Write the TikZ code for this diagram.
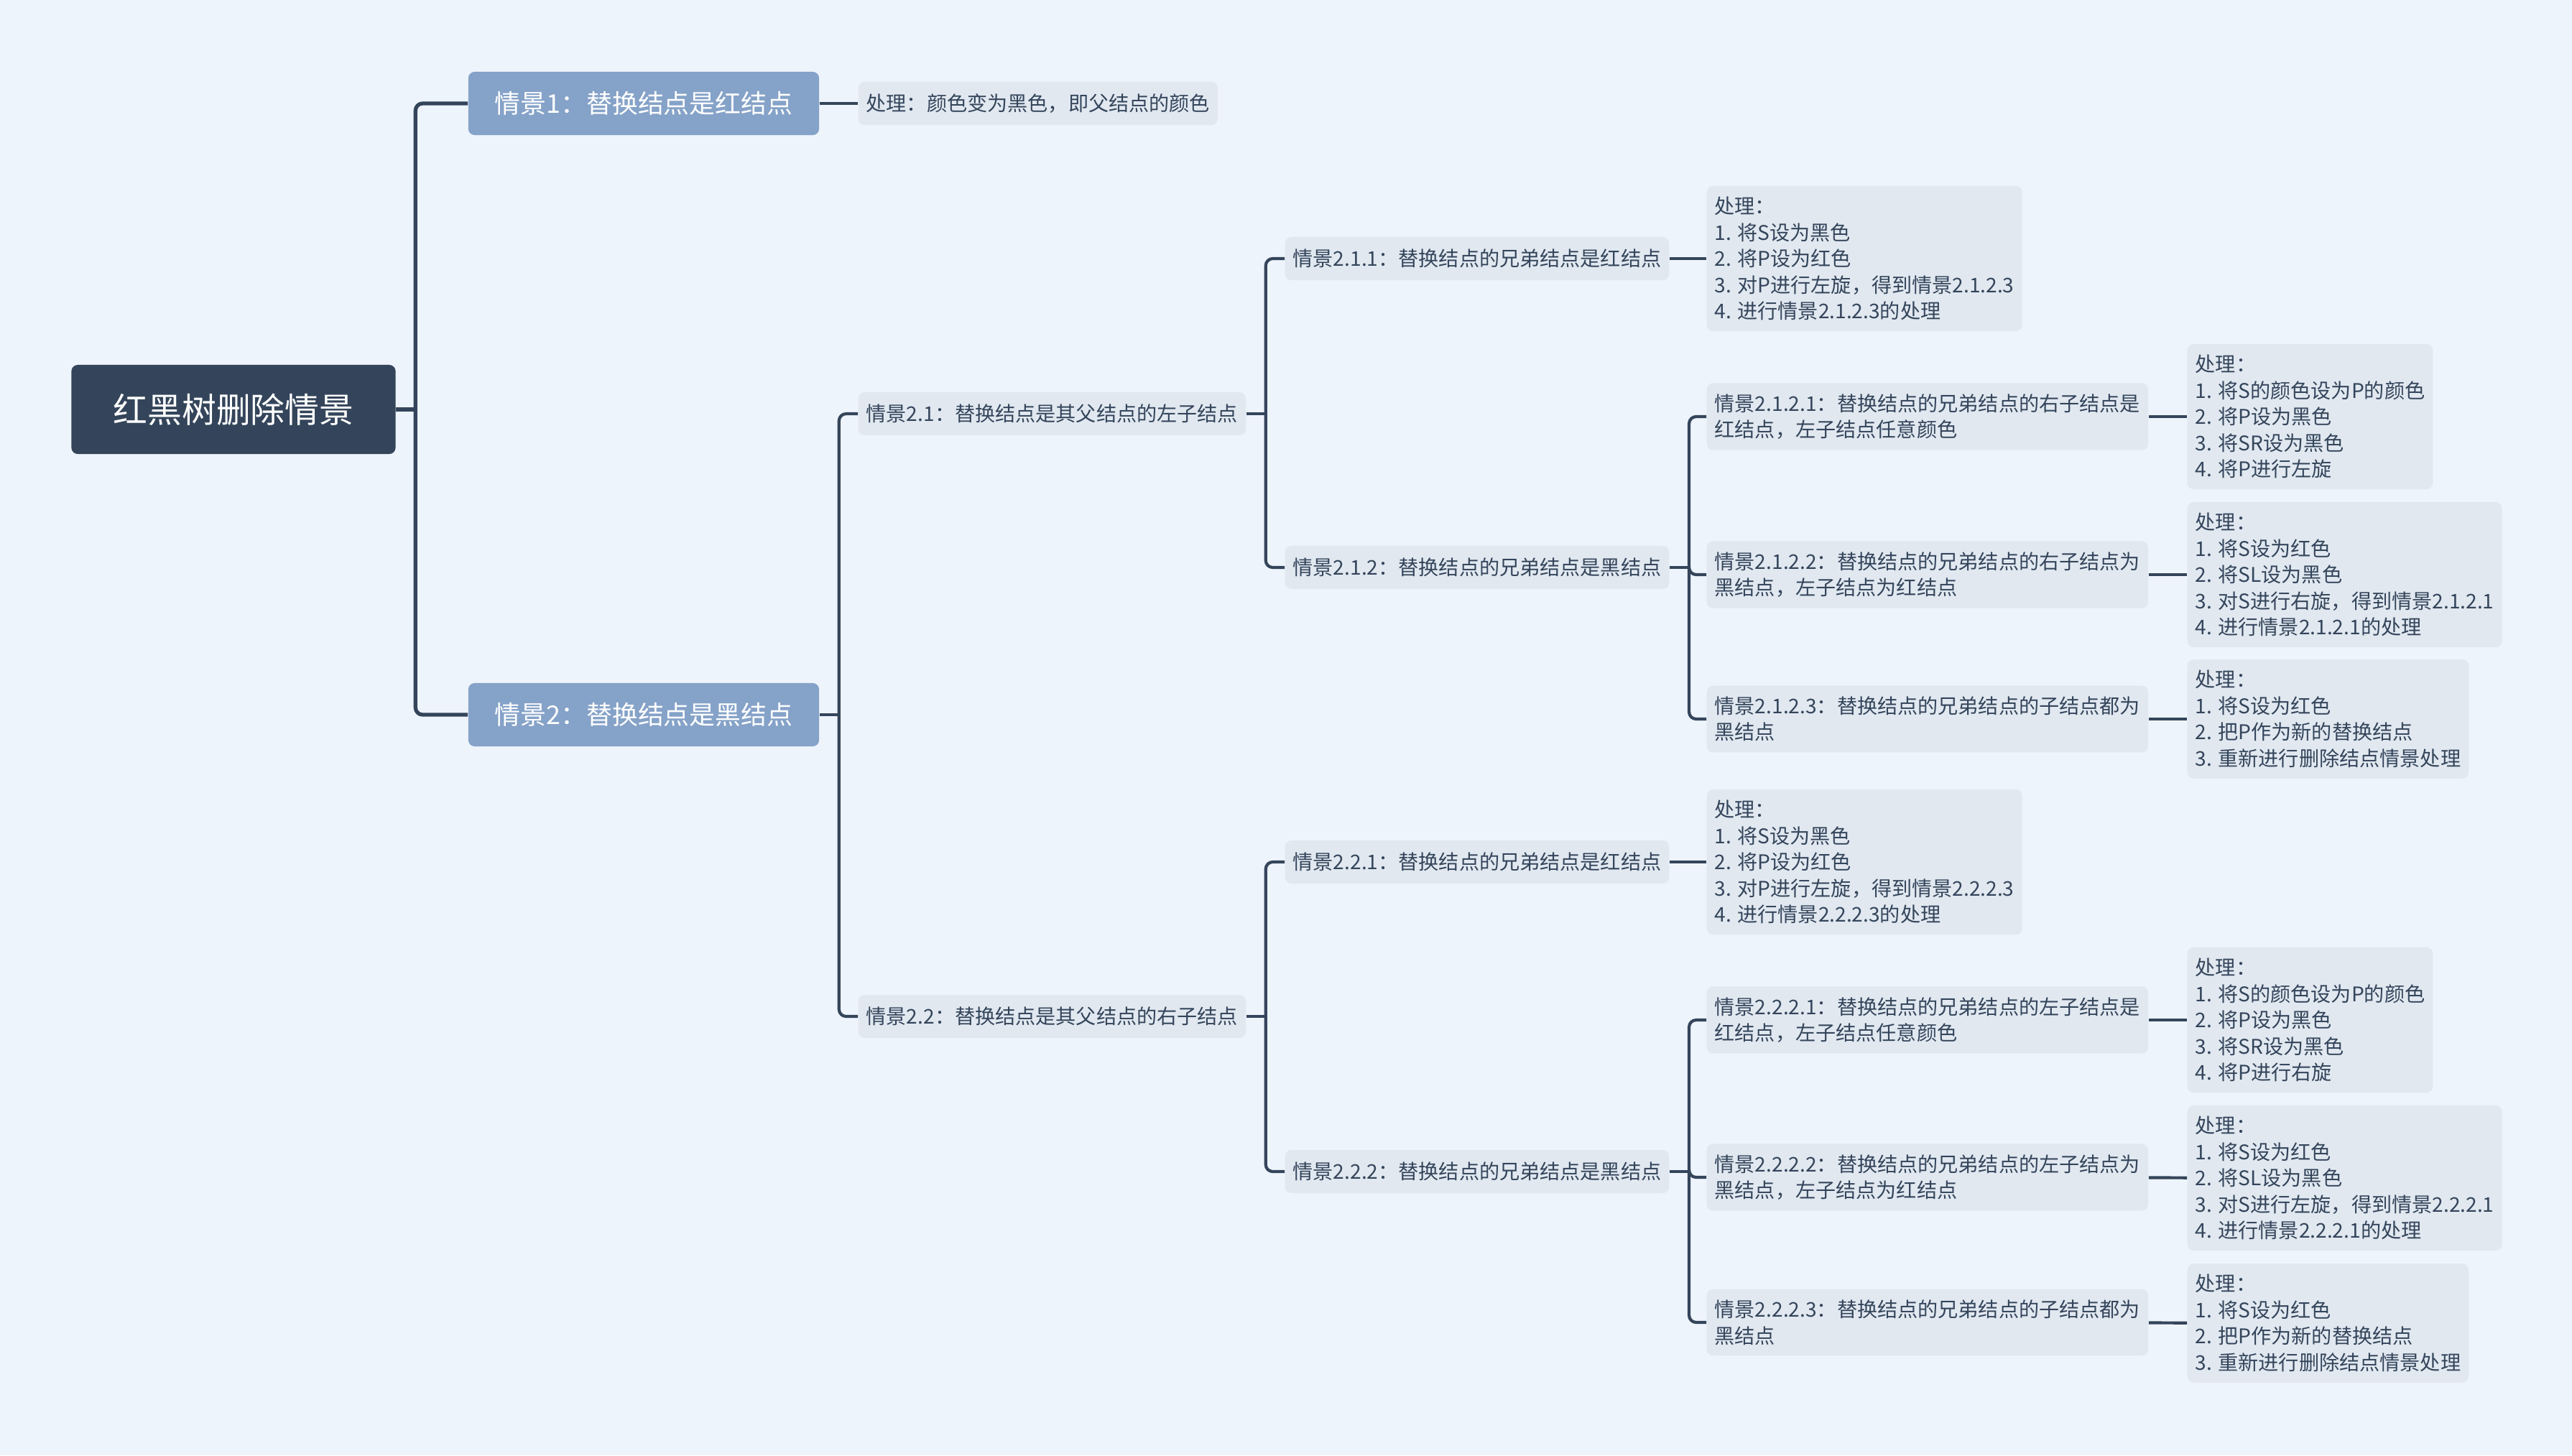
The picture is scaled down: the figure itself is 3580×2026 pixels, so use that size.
\documentclass[tikz,border=0pt]{standalone}
\usepackage{fontspec}
\setmainfont{Noto Sans CJK SC}
\usetikzlibrary{arrows.meta}
\definecolor{bgcol}{HTML}{EEF4FB}
\definecolor{rootcol}{HTML}{34455B}
\definecolor{topiccol}{HTML}{85A2C8}
\definecolor{boxcol}{HTML}{E1E8F0}
\definecolor{linecol}{HTML}{34455B}
\definecolor{textcol}{HTML}{34455B}

\begin{document}
\begin{tikzpicture}[
  x=0.01cm,y=-0.01cm,
  root/.style={fill=rootcol,text=white,rounded corners=2.5pt,minimum width=4.51cm,
    minimum height=1.24cm,font=\fontsize{13.6pt}{16pt}\selectfont},
  topic/.style={fill=topiccol,text=white,rounded corners=2.5pt,minimum width=4.88cm,
    minimum height=0.88cm,font=\fontsize{10.2pt}{12pt}\selectfont},
  sub/.style={fill=boxcol,text=textcol,rounded corners=2.5pt,anchor=west,align=left,
    minimum height=0.6cm,inner xsep=0.11cm,inner ysep=0.15cm,
    font=\fontsize{8pt}{10.4pt}\selectfont},
  link/.style={draw=linecol,line width=1.2pt,rounded corners=2.8pt},
  elbow/.style={to path={|- (\tikztotarget)}}
]
  \fill[bgcol] (0,0) rectangle (3580,2026);

  \node[root] (r) at (325,570) {红黑树删除情景};
  \node[topic] (t1) at (896,144) {情景1：替换结点是红结点};
  \node[topic] (t2) at (896,995) {情景2：替换结点是黑结点};

  \node[sub] (n1) at (1194,144) {处理：颜色变为黑色，即父结点的颜色};
  \node[sub] (s21) at (1194,576) {情景2.1：替换结点是其父结点的左子结点};
  \node[sub] (s22) at (1194,1415) {情景2.2：替换结点是其父结点的右子结点};

  \node[sub] (s211) at (1788,360) {情景2.1.1：替换结点的兄弟结点是红结点};
  \node[sub] (s212) at (1788,790) {情景2.1.2：替换结点的兄弟结点是黑结点};
  \node[sub] (s221) at (1788,1200) {情景2.2.1：替换结点的兄弟结点是红结点};
  \node[sub] (s222) at (1788,1631) {情景2.2.2：替换结点的兄弟结点是黑结点};

  \node[sub] (p211) at (2375,360) {处理：\\1. 将S设为黑色\\2. 将P设为红色\\3. 对P进行左旋，得到情景2.1.2.3\\4. 进行情景2.1.2.3的处理};
  \node[sub] (s2121) at (2375,580) {情景2.1.2.1：替换结点的兄弟结点的右子结点是\\红结点，左子结点任意颜色};
  \node[sub] (s2122) at (2375,800) {情景2.1.2.2：替换结点的兄弟结点的右子结点为\\黑结点，左子结点为红结点};
  \node[sub] (s2123) at (2375,1001) {情景2.1.2.3：替换结点的兄弟结点的子结点都为\\黑结点};
  \node[sub] (p2121) at (3044,580) {处理：\\1. 将S的颜色设为P的颜色\\2. 将P设为黑色\\3. 将SR设为黑色\\4. 将P进行左旋};
  \node[sub] (p2122) at (3044,800) {处理：\\1. 将S设为红色\\2. 将SL设为黑色\\3. 对S进行右旋，得到情景2.1.2.1\\4. 进行情景2.1.2.1的处理};
  \node[sub] (p2123) at (3044,1001) {处理：\\1. 将S设为红色\\2. 把P作为新的替换结点\\3. 重新进行删除结点情景处理};

  \node[sub] (p221) at (2375,1200) {处理：\\1. 将S设为黑色\\2. 将P设为红色\\3. 对P进行左旋，得到情景2.2.2.3\\4. 进行情景2.2.2.3的处理};
  \node[sub] (s2221) at (2375,1420) {情景2.2.2.1：替换结点的兄弟结点的左子结点是\\红结点，左子结点任意颜色};
  \node[sub] (s2222) at (2375,1639) {情景2.2.2.2：替换结点的兄弟结点的左子结点为\\黑结点，左子结点为红结点};
  \node[sub] (s2223) at (2375,1841) {情景2.2.2.3：替换结点的兄弟结点的子结点都为\\黑结点};
  \node[sub] (p2221) at (3044,1420) {处理：\\1. 将S的颜色设为P的颜色\\2. 将P设为黑色\\3. 将SR设为黑色\\4. 将P进行右旋};
  \node[sub] (p2222) at (3044,1640) {处理：\\1. 将S设为红色\\2. 将SL设为黑色\\3. 对S进行左旋，得到情景2.2.2.1\\4. 进行情景2.2.2.1的处理};
  \node[sub] (p2223) at (3044,1842) {处理：\\1. 将S设为红色\\2. 把P作为新的替换结点\\3. 重新进行删除结点情景处理};

  \draw[link,line width=1.5pt] (r.east) -- ++(27,0) coordinate (rj);
  \path[link,line width=1.5pt] (rj) edge[elbow] (t1.west) edge[elbow] (t2.west);
  \draw[link] (t2.east) -- ++(27,0) coordinate (t2j);
  \path[link] (t2j) edge[elbow] (s21.west) edge[elbow] (s22.west);
  \draw[link] (s21.east) -- ++(27,0) coordinate (s21j);
  \path[link] (s21j) edge[elbow] (s211.west) edge[elbow] (s212.west);
  \draw[link] (s22.east) -- ++(27,0) coordinate (s22j);
  \path[link] (s22j) edge[elbow] (s221.west) edge[elbow] (s222.west);
  \draw[link] (s212.east) -- ++(27,0) coordinate (s212j);
  \path[link] (s212j) edge[elbow] (s2121.west) edge[elbow] (s2122.west) edge[elbow] (s2123.west);
  \draw[link] (s222.east) -- ++(27,0) coordinate (s222j);
  \path[link] (s222j) edge[elbow] (s2221.west) edge[elbow] (s2222.west) edge[elbow] (s2223.west);

  \path[link]
    (t1) edge (n1)
    (s211) edge (p211)
    (s221) edge (p221)
    (s2121) edge (p2121)
    (s2122) edge (p2122)
    (s2123) edge (p2123)
    (s2221) edge (p2221)
    (s2222) edge (p2222)
    (s2223) edge (p2223);
\end{tikzpicture}
\end{document}
